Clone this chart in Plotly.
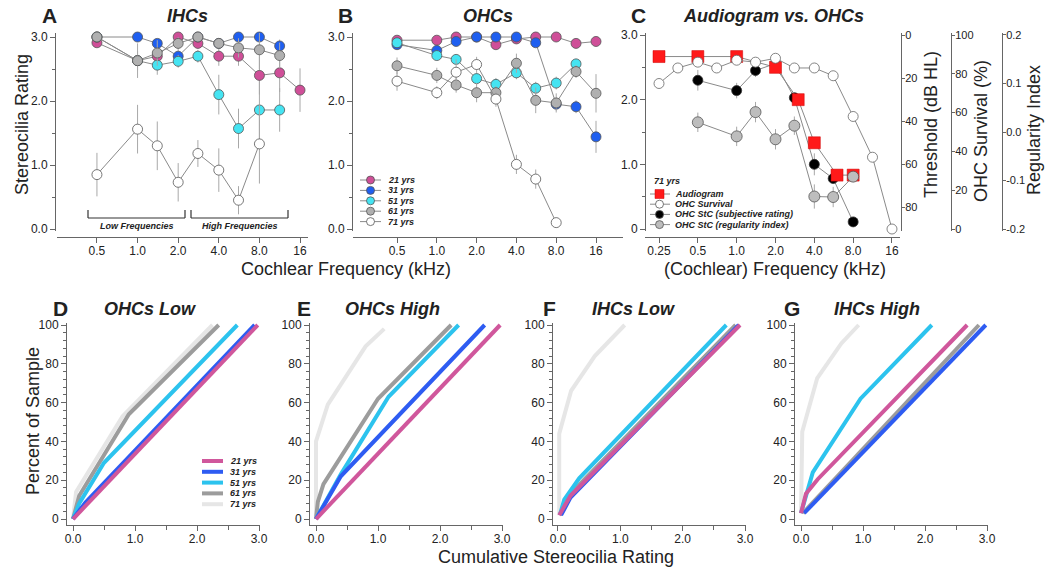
import plotly.graph_objects as go
import math

# ---------------- DATA ----------------
ages = ["21 yrs", "31 yrs", "51 yrs", "61 yrs", "71 yrs"]
freqs = [0.5, 1.0, 1.4, 2.0, 2.8, 4.0, 5.6, 8.0, 11.3, 16.0]

ihc_21 = [2.91, 2.63, 2.70, 3.00, 2.90, 2.70, 2.70, 2.40, 2.44, 2.17]
ihc_31 = [3.00, 3.00, 2.90, 2.70, 3.00, 2.90, 3.00, 3.00, 2.86, None]
ihc_51 = [3.00, 2.63, 2.56, 2.62, 2.70, 2.10, 1.57, 1.86, 1.86, None]
ihc_61 = [3.00, 2.63, 2.75, 2.90, 3.00, 2.90, 2.83, 2.80, 2.71, None]
ihc_71 = [0.85, 1.56, 1.30, 0.73, 1.18, 0.92, 0.45, 1.33, None, None]
ihc_err_21 = [0.05, 0.10, 0.10, 0.05, 0.08, 0.15, 0.15, 0.30, 0.30, 0.34]
ihc_err_31 = [0.02, 0.05, 0.05, 0.10, 0.05, 0.05, 0.05, 0.05, 0.10, 0]
ihc_err_51 = [0.05, 0.15, 0.15, 0.10, 0.10, 0.31, 0.31, 0.45, 0.34, 0]
ihc_err_61 = [0.03, 0.27, 0.20, 0.10, 0.05, 0.08, 0.15, 0.30, 0.20, 0]
ihc_err_71 = [0.34, 0.38, 0.38, 0.30, 0.21, 0.34, 0.22, 0.62, 0, 0]

ohc_21 = [2.95, 2.95, 3.00, 3.00, 2.88, 2.97, 3.00, 3.00, 2.90, 2.93]
ohc_31 = [2.88, 2.79, 2.93, 3.00, 3.00, 3.00, 2.91, 1.95, 1.91, 1.44]
ohc_51 = [2.91, 2.71, 2.65, 2.35, 2.26, 2.44, 2.20, 2.28, 2.58, None]
ohc_61 = [2.55, 2.40, 2.25, 2.13, 2.13, 2.59, 2.01, 1.97, 2.46, 2.12]
ohc_71 = [2.31, 2.13, 2.45, 2.57, 2.03, 1.01, 0.78, 0.10, None, None]
ohc_err_21 = [0.03, 0.03, 0.02, 0.02, 0.05, 0.03, 0.02, 0.02, 0.05, 0.05]
ohc_err_31 = [0.05, 0.05, 0.05, 0.03, 0.03, 0.03, 0.05, 0.10, 0.10, 0.25]
ohc_err_51 = [0.05, 0.05, 0.08, 0.10, 0.10, 0.10, 0.10, 0.10, 0.08, 0]
ohc_err_61 = [0.13, 0.12, 0.12, 0.15, 0.10, 0.15, 0.20, 0.15, 0.10, 0.30]
ohc_err_71 = [0.15, 0.10, 0.20, 0.12, 0.12, 0.15, 0.15, 0.03, 0, 0]

aud_freq = [0.25, 0.5, 1.0, 2.0, 3.0, 4.0, 6.0, 8.0]
aud_db = [10, 10, 10, 15, 30, 50, 65, 65]
surv_freq = [0.25, 0.35, 0.5, 0.7, 1.0, 1.4, 2.0, 2.8, 4.0, 5.6, 8.0, 11.3, 16.0]
surv_pct = [75, 83, 86, 83, 87, 86, 88, 83, 83, 79, 58, 37, 0]
stc_freq = [0.5, 1.0, 1.4, 2.0, 2.8, 4.0, 5.6, 8.0]
stc_rating = [2.30, 2.14, 2.45, 2.56, 2.03, 1.00, 0.78, 0.11]
stc_err = [0.16, 0.12, 0.10, 0.03, 0.03, 0.17, 0.08, 0.02]
ri_vals = [0.020, -0.009, 0.041, -0.015, 0.013, -0.133, -0.134, -0.092]
ri_err = [0.020, 0.020, 0.021, 0.021, 0.019, 0.025, 0.021, 0.010]

# cumulative curves (x = cumulative stereocilia rating, y = percent of sample)
d_x = {"21 yrs": [0, 2.98], "31 yrs": [0, 0.2, 2.93], "51 yrs": [0, 0.1, 0.5, 2.65],
       "61 yrs": [0, 0.1, 0.9, 2.35], "71 yrs": [0, 0.05, 0.8, 2.25]}
d_y = {"21 yrs": [0, 100], "31 yrs": [0, 8.5, 100], "51 yrs": [0, 8, 29, 100],
       "61 yrs": [0, 12, 54, 100], "71 yrs": [0, 14, 53, 100]}
e_x = {"21 yrs": [0, 2.97], "31 yrs": [0, 0.4, 2.72], "51 yrs": [0, 0.4, 1.17, 2.3],
       "61 yrs": [0, 0.03, 0.12, 1.0, 2.18], "71 yrs": [0, 0, 0.19, 0.8, 1.1]}
e_y = {"21 yrs": [0, 100], "31 yrs": [0, 22, 100], "51 yrs": [0, 23, 63, 100],
       "61 yrs": [0, 9, 18, 62, 100], "71 yrs": [0, 40, 59, 89, 98]}
f_x = {"21 yrs": [0.02, 0.2, 2.92], "31 yrs": [0.05, 0.2, 2.9], "51 yrs": [0.03, 0.1, 0.34, 2.7],
       "61 yrs": [0.03, 0.2, 2.85], "71 yrs": [0.02, 0.02, 0.21, 0.59, 1.07]}
f_y = {"21 yrs": [2, 12, 100], "31 yrs": [2, 11, 100], "51 yrs": [2, 10, 21, 100],
       "61 yrs": [2, 13, 100], "71 yrs": [2, 44, 66, 84, 100]}
g_x = {"21 yrs": [0, 0.08, 0.27, 2.68], "31 yrs": [0.05, 2.98], "51 yrs": [0, 0.19, 0.96, 2.11],
       "61 yrs": [0.03, 2.87], "71 yrs": [0, 0.02, 0.26, 0.65, 0.93]}
g_y = {"21 yrs": [3, 13, 20.5, 100], "31 yrs": [3, 100], "51 yrs": [3, 24, 62, 100],
       "61 yrs": [3, 100], "71 yrs": [3, 45, 72.5, 90.5, 100]}

freq_ticks = [0.5, 1, 2, 4, 8, 16]
freq_ticktext = ["0.5", "1.0", "2.0", "4.0", "8.0", "16"]
freq_ticks_c = [0.25, 0.5, 1, 2, 4, 8, 16]
freq_ticktext_c = ["0.25", "0.5", "1.0", "2.0", "4.0", "8.0", "16"]

# ---------------- STYLE ----------------
W, H = 1050, 572
FONT = "Liberation Sans, Arial, sans-serif"
marker_cols = {"21 yrs": "#CF4F98", "31 yrs": "#1F5FF0", "51 yrs": "#45E4F2",
               "61 yrs": "#B0B0B0", "71 yrs": "#FFFFFF"}
line_cols = {"21 yrs": "#D0579C", "31 yrs": "#2E5CF2", "51 yrs": "#2CC3EE",
             "61 yrs": "#9C9C9C", "71 yrs": "#E6E6E6"}
AX = "#666666"
TXT = "#222222"
CONNECT = "#8A8A8A"
ERR = "#A8A8A8"


def px(x):
    return x / W


def py(y):
    return 1 - y / H


fig = go.Figure()

# ---------- Panels A and B ----------
ihc = [ihc_21, ihc_31, ihc_51, ihc_61, ihc_71]
ihc_err = [ihc_err_21, ihc_err_31, ihc_err_51, ihc_err_61, ihc_err_71]
ohc = [ohc_21, ohc_31, ohc_51, ohc_61, ohc_71]
ohc_err = [ohc_err_21, ohc_err_31, ohc_err_51, ohc_err_61, ohc_err_71]

for (vals_set, err_set, xa, ya) in [(ihc, ihc_err, "x", "y"), (ohc, ohc_err, "x2", "y2")]:
    for age, vals, errs in zip(ages, vals_set, err_set):
        fx = [f for f, v in zip(freqs, vals) if v is not None]
        fv = [v for v in vals if v is not None]
        fe = [e for e, v in zip(errs, vals) if v is not None]
        fig.add_trace(go.Scatter(
            x=fx, y=fv, mode="lines+markers", xaxis=xa, yaxis=ya, showlegend=False,
            line=dict(color=CONNECT, width=1),
            marker=dict(size=10, color=marker_cols[age], line=dict(color="#555555", width=0.8)),
            error_y=dict(type="data", array=fe, color=ERR, thickness=1, width=0),
            cliponaxis=False, name=age))

# ---------- Panel C ----------
fig.add_trace(go.Scatter(
    x=stc_freq, y=ri_vals, mode="lines+markers", xaxis="x3", yaxis="y6", showlegend=False,
    line=dict(color=CONNECT, width=1),
    marker=dict(size=11, color="#BDBDBD", line=dict(color="#555555", width=0.8)),
    error_y=dict(type="data", array=ri_err, color=ERR, thickness=1, width=0),
    cliponaxis=False, name="OHC StC (regularity index)"))
fig.add_trace(go.Scatter(
    x=surv_freq, y=surv_pct, mode="lines+markers", xaxis="x3", yaxis="y5", showlegend=False,
    line=dict(color=CONNECT, width=1),
    marker=dict(size=10, color="#FFFFFF", line=dict(color="#666666", width=0.8)),
    cliponaxis=False, name="OHC Survival"))
fig.add_trace(go.Scatter(
    x=stc_freq, y=stc_rating, mode="lines+markers", xaxis="x3", yaxis="y3", showlegend=False,
    line=dict(color=CONNECT, width=1),
    marker=dict(size=10, color="#000000", line=dict(color="#333333", width=0.8)),
    error_y=dict(type="data", array=stc_err, color=ERR, thickness=1, width=0),
    cliponaxis=False, name="OHC StC (subjective rating)"))
fig.add_trace(go.Scatter(
    x=aud_freq, y=aud_db, mode="lines+markers", xaxis="x3", yaxis="y4", showlegend=False,
    line=dict(color=CONNECT, width=1),
    marker=dict(size=12, symbol="square", color="#FF1A1A", line=dict(color="#CC0000", width=0.5)),
    cliponaxis=False, name="Audiogram"))

# ---------- Panels D-G ----------
draw_order = ["71 yrs", "61 yrs", "51 yrs", "31 yrs", "21 yrs"]
for (dx, dy, xa, ya) in [(d_x, d_y, "x4", "y7"), (e_x, e_y, "x5", "y8"),
                         (f_x, f_y, "x6", "y9"), (g_x, g_y, "x7", "y10")]:
    for age in draw_order:
        fig.add_trace(go.Scatter(
            x=dx[age], y=dy[age], mode="lines", xaxis=xa, yaxis=ya, showlegend=False,
            line=dict(color=line_cols[age], width=4), cliponaxis=False, name=age))

# ---------------- AXES ----------------
tickfont = dict(family=FONT, size=12, color=TXT)
small_tickfont = dict(family=FONT, size=11, color=TXT)


def base_axis(**kw):
    d = dict(showline=True, linecolor=AX, linewidth=1, showgrid=False, zeroline=False,
             ticks="outside", ticklen=5, tickcolor=AX, tickfont=tickfont, automargin=False)
    d.update(kw)
    return d


top_ydom = [py(231), py(33)]
bot_ydom = [py(525), py(323)]

layout_axes = {}
# A
layout_axes["xaxis"] = base_axis(type="log", domain=[px(57), px(308)],
                                 range=[math.log10(0.2529), math.log10(18.33)],
                                 tickvals=freq_ticks, ticktext=freq_ticktext,
                                 anchor="free", position=py(237), ticklabelstandoff=-2)
layout_axes["yaxis"] = base_axis(domain=top_ydom, range=[-0.031, 3.0625],
                                 tickvals=[0, 1, 2, 3], ticktext=["0.0", "1.0", "2.0", "3.0"],
                                 minor=dict(dtick=0.5, tick0=0, ticklen=3, ticks="outside", tickcolor=AX),
                                 anchor="free", position=px(55))
# B
layout_axes["xaxis2"] = base_axis(type="log", domain=[px(353), px(623)],
                                  range=[math.log10(0.2323), math.log10(25.6)],
                                  tickvals=freq_ticks, ticktext=freq_ticktext,
                                  anchor="free", position=py(237), ticklabelstandoff=-2)
layout_axes["yaxis2"] = base_axis(domain=top_ydom, range=[-0.031, 3.0625],
                                  tickvals=[0, 1, 2, 3], ticktext=["0.0", "1.0", "2.0", "3.0"],
                                  minor=dict(dtick=0.5, tick0=0, ticklen=3, ticks="outside", tickcolor=AX),
                                  anchor="free", position=px(352))
# C
layout_axes["xaxis3"] = base_axis(type="log", domain=[px(645), px(900)],
                                  range=[math.log10(0.1947), math.log10(18.46)],
                                  tickvals=freq_ticks_c, ticktext=freq_ticktext_c,
                                  anchor="free", position=py(237), ticklabelstandoff=-2)
layout_axes["yaxis3"] = base_axis(domain=top_ydom, range=[-0.031, 3.031],
                                  tickvals=[0, 1, 2, 3], ticktext=["0", "1.0", "2.0", "3.0"],
                                  minor=dict(dtick=0.5, tick0=0, ticklen=3, ticks="outside", tickcolor=AX),
                                  anchor="free", position=px(645))
layout_axes["yaxis4"] = base_axis(overlaying="y3", side="right", range=[90.93, -0.93],
                                  tickvals=[0, 20, 40, 60, 80], ticklen=3, tickfont=small_tickfont,
                                  ticklabelstandoff=-2, anchor="free", position=px(901))
layout_axes["yaxis5"] = base_axis(overlaying="y3", side="right", range=[-1.03, 101.03],
                                  tickvals=[0, 20, 40, 60, 80, 100], ticklen=3, tickfont=small_tickfont,
                                  ticklabelstandoff=-2, anchor="free", position=px(951))
layout_axes["yaxis6"] = base_axis(overlaying="y3", side="right", range=[-0.2041, 0.2041],
                                  tickvals=[-0.2, -0.1, 0, 0.1, 0.2],
                                  ticktext=["-0.2", "-0.1", "0.0", "0.1", "0.2"], ticklen=3,
                                  tickfont=small_tickfont, ticklabelstandoff=-2,
                                  anchor="free", position=px(1002))
# D-G
bottom_specs = [("xaxis4", "yaxis7", 67, 260, -0.097), ("xaxis5", "yaxis8", 310, 503, -0.097),
                ("xaxis6", "yaxis9", 553, 746, -0.080), ("xaxis7", "yaxis10", 795, 988, -0.097)]
for i, (xn, yn, x0, x1, lo) in enumerate(bottom_specs):
    ya_id = "y" + yn.replace("yaxis", "")
    xa_id = "x" + xn.replace("xaxis", "")
    layout_axes[xn] = base_axis(domain=[px(x0), px(x1)], range=[lo, 3.016],
                                tickvals=[0, 1, 2, 3], ticktext=["0.0", "1.0", "2.0", "3.0"],
                                minor=dict(dtick=0.5, tick0=0, ticklen=4, ticks="outside", tickcolor=AX),
                                anchor=ya_id, ticklabelstandoff=-2)
    layout_axes[yn] = base_axis(domain=bot_ydom, range=[-3.09, 101.03],
                                tickvals=[0, 20, 40, 60, 80, 100],
                                minor=dict(dtick=4, tick0=0, ticklen=3, ticks="outside", tickcolor=AX),
                                anchor=xa_id)

fig.update_layout(**layout_axes)

# ---------------- TEXT ----------------
ann = []


def text(x, y, s, size, angle=0, xanchor="center", yanchor="middle", color=TXT):
    ann.append(dict(x=px(x), y=py(y), xref="paper", yref="paper", text=s, showarrow=False,
                    textangle=angle, xanchor=xanchor, yanchor=yanchor,
                    font=dict(family=FONT, size=size, color=color)))


# panel letters and titles
for letter, lx, ly in [("A", 49, 15), ("B", 346, 15), ("C", 638, 15),
                       ("D", 60, 308), ("E", 304, 308), ("F", 549, 308), ("G", 792, 308)]:
    text(lx, ly, "<b>%s</b>" % letter, 21)
for title, tx, ty in [("IHCs", 187, 16), ("OHCs", 488, 16), ("Audiogram vs. OHCs", 773, 16),
                      ("OHCs Low", 150, 309), ("OHCs High", 392, 309),
                      ("IHCs Low", 633, 309), ("IHCs High", 877, 309)]:
    text(tx, ty, "<b><i>%s</i></b>" % title, 18)

# axis titles
text(22, 125, "Stereocilia Rating", 18, angle=-90)
text(346, 269, "Cochlear Frequency (kHz)", 18)
text(775, 269, "(Cochlear) Frequency (kHz)", 18)
text(931, 125, "Threshold (dB HL)", 18, angle=-90)
text(981, 131, "OHC Survival (%)", 18, angle=-90)
text(1034, 130, "Regularity Index", 18, angle=-90)
text(33, 421, "Percent of Sample", 18, angle=-90)
text(556, 557, "Cumulative Stereocilia Rating", 18)

shapes = []


def seg(x0, y0, x1, y1, color="#333333", width=1.2):
    shapes.append(dict(type="line", xref="paper", yref="paper", x0=px(x0), y0=py(y0),
                       x1=px(x1), y1=py(y1), line=dict(color=color, width=width)))


def circ(cx, cy, d, fill, edge="#555555"):
    shapes.append(dict(type="circle", xref="paper", yref="paper",
                       x0=px(cx - d / 2), x1=px(cx + d / 2), y0=py(cy + d / 2), y1=py(cy - d / 2),
                       fillcolor=fill, line=dict(color=edge, width=0.8)))


def square(cx, cy, d, fill):
    shapes.append(dict(type="rect", xref="paper", yref="paper",
                       x0=px(cx - d / 2), x1=px(cx + d / 2), y0=py(cy + d / 2), y1=py(cy - d / 2),
                       fillcolor=fill, line=dict(color="#CC0000", width=0.5)))


# frequency brackets in A
for bx0, bx1, label in [(88, 185, "Low Frequencies"), (191, 288, "High Frequencies")]:
    seg(bx0, 218, bx1, 218)
    seg(bx0, 218, bx0, 210)
    seg(bx1, 218, bx1, 210)
    text((bx0 + bx1) / 2, 226, "<b><i>%s</i></b>" % label, 9)

# legend in B
for i, age in enumerate(ages):
    yy = 180 + i * 10.4
    seg(360, yy, 381, yy, color=CONNECT, width=1)
    circ(370.5, yy, 8, marker_cols[age])
    text(386, yy, "<b><i>%s</i></b>" % age, 9, xanchor="left")

# legend in C
text(652, 181, "<b><i>71 yrs</i></b>", 9, xanchor="left")
c_items = [("Audiogram", "sq", "#FF1A1A"), ("OHC Survival", "c", "#FFFFFF"),
           ("OHC StC (subjective rating)", "c", "#000000"), ("OHC StC (regularity index)", "c", "#BDBDBD")]
for i, (lab, kind, col) in enumerate(c_items):
    yy = 194 + i * 10.2
    seg(650, yy, 670, yy, color=CONNECT, width=1)
    if kind == "sq":
        square(659.5, yy, 9, col)
    else:
        circ(659.5, yy, 8, col)
    text(673, yy, "<b><i>%s</i></b>" % lab, 9, xanchor="left")

# legend in D
for i, age in enumerate(ages):
    yy = 461 + i * 10.8
    seg(202, yy, 223, yy, color=line_cols[age], width=4)
    text(228, yy, "<b><i>%s</i></b>" % age, 9, xanchor="left")

fig.update_layout(
    width=W, height=H, margin=dict(l=0, r=0, t=0, b=0, autoexpand=False),
    paper_bgcolor="white", plot_bgcolor="white",
    annotations=ann, shapes=shapes, showlegend=False,
    font=dict(family=FONT, color=TXT),
)

fig.write_html("out.html", config={"displayModeBar": False},
               post_script="document.body.style.margin='0px';document.body.style.overflow='hidden';")
